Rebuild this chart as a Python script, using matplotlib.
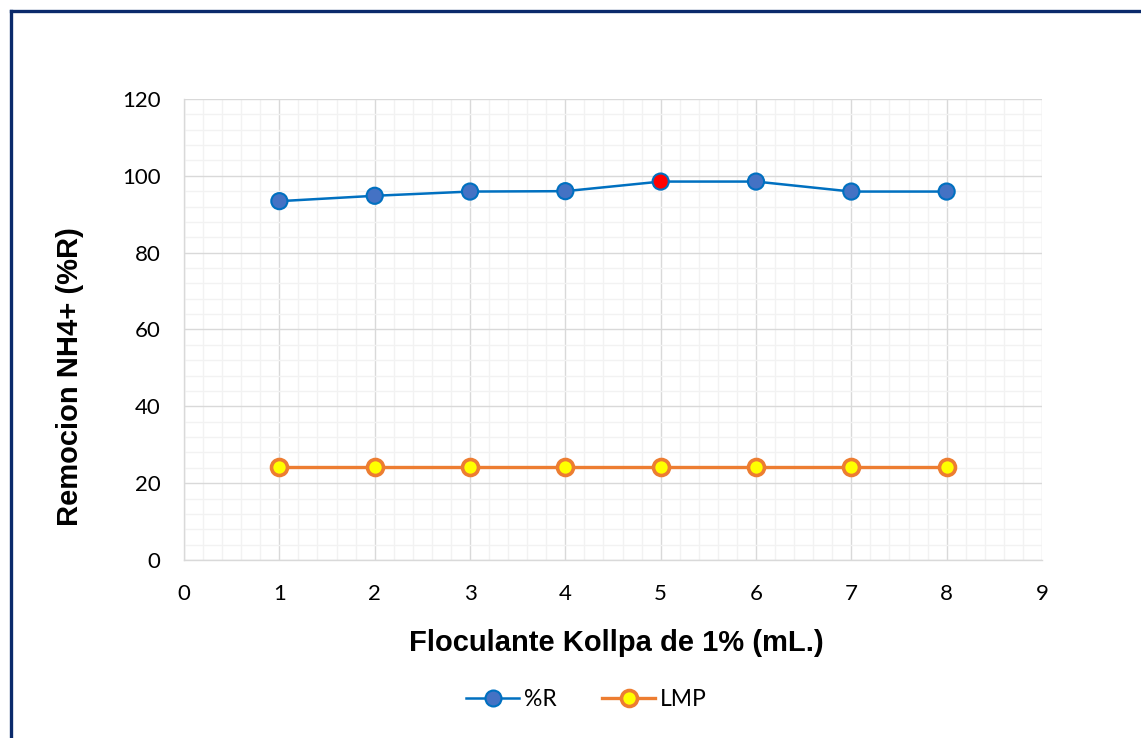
import matplotlib

matplotlib.use("Agg")
import matplotlib.pyplot as plt
from matplotlib.lines import Line2D
from matplotlib.ticker import MultipleLocator


# Dosis de floculante (mL) y porcentaje de remocion de NH4+
DOSIS = [1, 2, 3, 4, 5, 6, 7, 8]
REMOCION = [93.4, 94.8, 95.9, 96.0, 98.5, 98.5, 95.9, 95.9]
LMP = [24.3, 24.3, 24.3, 24.3, 24.3, 24.3, 24.3, 24.3]
MEJOR_IDX = 4  # punto resaltado en rojo

X_LABEL = "Floculante Kollpa de 1% (mL.)"
Y_LABEL = "Remocion NH4+ (%R)"

BLUE_LINE = "#0070C0"
BLUE_FILL = "#4472C4"
ORANGE = "#ED7D31"
YELLOW = "#FFFF00"

TICK_FONT = "Lato"
LABEL_FONT = "Liberation Sans"


def main() -> None:
    fig = plt.figure(figsize=(11.41, 7.38), dpi=100)
    fig.patch.set_facecolor("white")
    ax = fig.add_axes([0.1613, 0.2412, 0.7519, 0.6247])

    ax.set_xlim(0, 9)
    ax.set_ylim(0, 120)
    ax.xaxis.set_major_locator(MultipleLocator(1))
    ax.xaxis.set_minor_locator(MultipleLocator(0.2))
    ax.yaxis.set_major_locator(MultipleLocator(20))
    ax.yaxis.set_minor_locator(MultipleLocator(4))

    ax.grid(which="minor", color="#F2F2F2", linewidth=1.0, zorder=0)
    ax.grid(which="major", color="#D9D9D9", linewidth=1.0, zorder=0)
    ax.set_axisbelow(True)

    for side in ("top", "right"):
        ax.spines[side].set_visible(False)
    for side in ("left", "bottom"):
        ax.spines[side].set_color("#D9D9D9")
        ax.spines[side].set_linewidth(1.0)

    ax.tick_params(which="both", length=0, labelsize=16)
    ax.tick_params(axis="x", pad=17)
    ax.tick_params(axis="y", pad=17)
    for lab in ax.get_xticklabels() + ax.get_yticklabels():
        lab.set_fontfamily(TICK_FONT)

    # serie %R
    ax.plot(DOSIS, REMOCION, color=BLUE_LINE, linewidth=1.8, zorder=3)
    face = [BLUE_FILL] * len(DOSIS)
    face[MEJOR_IDX] = "#FF0000"
    ax.scatter(DOSIS, REMOCION, s=135, c=face, edgecolors=BLUE_LINE,
               linewidths=1.5, zorder=4)

    # limite maximo permisible
    ax.plot(DOSIS, LMP, color=ORANGE, linewidth=2.4, marker="o", markersize=11.5,
            markerfacecolor=YELLOW, markeredgecolor=ORANGE, markeredgewidth=2.6,
            zorder=3)

    ax.set_xlabel(X_LABEL, fontsize=21, fontweight="bold", family=LABEL_FONT,
                  va="center")
    ax.xaxis.set_label_coords(0.5035, -0.179)
    ax.set_ylabel(Y_LABEL, fontsize=21, fontweight="bold", family=LABEL_FONT,
                  va="center")
    ax.yaxis.set_label_coords(-0.133, 0.397)

    handles = [
        Line2D([], [], color=BLUE_LINE, linewidth=1.8, marker="o", markersize=11.5,
               markerfacecolor=BLUE_FILL, markeredgecolor=BLUE_LINE,
               markeredgewidth=1.5),
        Line2D([], [], color=ORANGE, linewidth=2.4, marker="o", markersize=11.5,
               markerfacecolor=YELLOW, markeredgecolor=ORANGE,
               markeredgewidth=2.6),
    ]
    fig.legend(handles, ["%R", "LMP"], loc="center", bbox_to_anchor=(0.514, 0.052),
               ncol=2, frameon=False, handlelength=2.3, handletextpad=0.2,
               columnspacing=2.0, prop={"family": TICK_FONT, "size": 16.5})

    # marco azul de la figura
    fig.add_artist(Line2D([0.0096, 0.0096], [0.0, 0.985], color="#0B2A6B",
                          linewidth=2.4, transform=fig.transFigure))
    fig.add_artist(Line2D([0.0096, 1.0], [0.985, 0.985], color="#0B2A6B",
                          linewidth=2.4, transform=fig.transFigure))

    fig.savefig("out.png", dpi=100, facecolor="white")
    plt.close(fig)


if __name__ == "__main__":
    main()
